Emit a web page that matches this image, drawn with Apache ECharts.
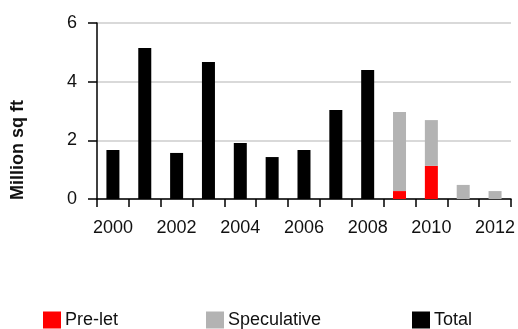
<!DOCTYPE html>
<html>
<head>
<meta charset="utf-8">
<script src="https://cdn.jsdelivr.net/npm/echarts@6/dist/echarts.min.js"></script>
<style>
  html, body { margin: 0; padding: 0; background: #fff; }
  #chart { width: 518px; height: 329px; }
</style>
</head>
<body>
<div id="chart"></div>
<script>
const years = ['2000', '2001', '2002', '2003', '2004', '2005', '2006', '2007', '2008', '2009', '2010', '2011', '2012']
const totalValues = [1.67, 5.15, 1.57, 4.67, 1.91, 1.43, 1.67, 3.03, 4.4, null, null, null, null]
const preLetValues = [null, null, null, null, null, null, null, null, null, 0.27, 1.13, null, null]
const speculativeValues = [null, null, null, null, null, null, null, null, null, 2.7, 1.56, 0.48, 0.27]

const font = 'Liberation Sans, Arial, sans-serif'
const chart = echarts.init(document.getElementById('chart'))

const legendBase = {
  top: 311,
  padding: 0,
  itemWidth: 18,
  itemHeight: 17,
  itemGap: 4,
  icon: 'rect',
  textStyle: { fontFamily: font, fontSize: 18, color: '#111', padding: [0, 0, 0, -1] },
}

chart.setOption({
  animation: false,
  grid: {
    left: 97,
    right: 5,
    top: 23,
    bottom: 130,
  },
  graphic: [
    {
      type: 'text',
      x: 18,
      y: 150,
      rotation: Math.PI / 2,
      style: {
        text: 'Million sq ft',
        fontFamily: font,
        fontSize: 18,
        fontWeight: 'bold',
        fill: '#111',
        align: 'center',
        verticalAlign: 'middle',
      },
    },
  ],
  legend: [
    { ...legendBase, left: 43, data: ['Pre-let'] },
    { ...legendBase, left: 206, data: ['Speculative'] },
    { ...legendBase, left: 412, data: ['Total'] },
  ],
  xAxis: {
    type: 'category',
    data: years,
    axisLine: { lineStyle: { color: '#000', width: 1.5 } },
    axisTick: { show: true, interval: 0, length: 8, lineStyle: { color: '#000', width: 1.5 } },
    axisLabel: { interval: 1, margin: 20, fontFamily: font, fontSize: 18, color: '#111' },
  },
  yAxis: {
    type: 'value',
    min: 0,
    max: 6,
    interval: 2,
    axisLine: { show: true, lineStyle: { color: '#000', width: 1.5 } },
    axisTick: { show: true, length: 9, lineStyle: { color: '#000', width: 1.5 } },
    axisLabel: { margin: 20, fontFamily: font, fontSize: 18, color: '#111' },
    splitLine: { lineStyle: { color: '#cccccc', width: 1.5 } },
  },
  series: [
    {
      name: 'Pre-let',
      type: 'bar',
      stack: 'supply',
      barWidth: 13,
      data: preLetValues,
      itemStyle: { color: '#ff0000' },
    },
    {
      name: 'Speculative',
      type: 'bar',
      stack: 'supply',
      barWidth: 13,
      data: speculativeValues,
      itemStyle: { color: '#b3b3b3' },
    },
    {
      name: 'Total',
      type: 'bar',
      stack: 'supply',
      barWidth: 13,
      data: totalValues,
      itemStyle: { color: '#000000' },
    },
  ],
})
</script>
</body>
</html>
